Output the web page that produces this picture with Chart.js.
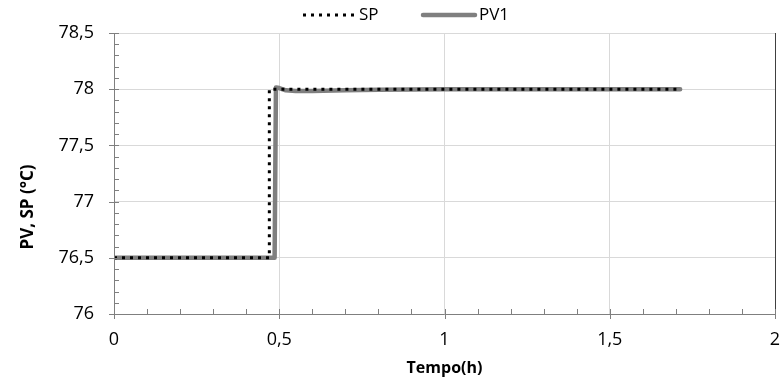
<!DOCTYPE html>
<html>
<head>
<meta charset="utf-8">
<script src="https://cdn.jsdelivr.net/npm/chart.js@4/dist/chart.umd.min.js"></script>
<style>
html,body{margin:0;padding:0;background:#fff;}
#wrap{width:781px;height:381px;}
</style>
</head>
<body>
<div id="wrap"><canvas id="c" width="781" height="381"></canvas></div>
<script>
// ---- data ----
const spTime  = [0, 0.470, 0.470, 1.713];
const spValue = [76.5, 76.5, 78.0, 78.0];
const pvTime  = [0, 0.486, 0.490, 0.500, 0.520, 0.550, 0.600, 0.700, 0.800, 1.000, 1.200, 1.400, 1.600, 1.713];
const pvValue = [76.5, 76.5, 78.016, 78.01, 77.99, 77.983, 77.985, 77.99, 77.995, 78.0, 78.0, 78.0, 78.0, 78.0];
const seriesNames = ['SP', 'PV1'];
const xTicks = [0, 0.5, 1, 1.5, 2];
const yTicks = [76, 76.5, 77, 77.5, 78, 78.5];
const xTitle = 'Tempo(h)';
const yTitle = 'PV, SP (°C)';

const FONT = "'Open Sans', 'Noto Sans', sans-serif";
const fmt = v => String(Math.round(v * 10) / 10).replace('.', ',');

const toPts = (xs, ys) => xs.map((x, i) => ({x: x, y: ys[i]}));

const axisDecor = {
  id: 'axisDecor',
  afterDraw(chart) {
    const ctx = chart.ctx;
    const xs = chart.scales.x, ys = chart.scales.y;
    const a = chart.chartArea;
    ctx.save();
    ctx.lineWidth = 1;
    // right border
    ctx.beginPath();
    ctx.strokeStyle = '#404040';
    ctx.moveTo(Math.round(a.right) + 0.5, a.top);
    ctx.lineTo(Math.round(a.right) + 0.5, a.bottom);
    ctx.stroke();
    ctx.strokeStyle = '#7f7f7f';
    // axis lines
    ctx.beginPath();
    ctx.moveTo(a.left, Math.round(a.bottom) + 0.5);
    ctx.lineTo(a.right, Math.round(a.bottom) + 0.5);
    ctx.moveTo(Math.round(a.left) + 0.5, a.top);
    ctx.lineTo(Math.round(a.left) + 0.5, a.bottom);
    ctx.stroke();
    // x ticks
    ctx.beginPath();
    for (let i = 0; i <= 20; i++) {
      const v = i / 10;
      const px = Math.round(xs.getPixelForValue(v)) + 0.5;
      const major = i % 5 === 0;
      ctx.moveTo(px, a.bottom - 5);
      ctx.lineTo(px, a.bottom + (major ? 5 : 0));
    }
    // y ticks
    for (let i = 0; i <= 25; i++) {
      const v = 76 + i / 10;
      const py = Math.round(ys.getPixelForValue(v)) + 0.5;
      const major = i % 5 === 0;
      ctx.moveTo(a.left - (major ? 5 : 0), py);
      ctx.lineTo(a.left + 5, py);
    }
    ctx.stroke();
    // y title
    ctx.fillStyle = '#000';
    ctx.font = "bold 17px " + FONT;
    ctx.textAlign = 'center';
    ctx.textBaseline = 'middle';
    ctx.save();
    ctx.translate(28, 207);
    ctx.rotate(-Math.PI / 2);
    ctx.fillText(yTitle, 0, 0);
    ctx.restore();

    // legend
    const ds = chart.data.datasets;
    const ly = 15;
    const items = [{x0: 303, x1: 355, tx: 359}, {x0: 423, x1: 475, tx: 479}];
    ctx.font = "17px " + FONT;
    ctx.textAlign = 'left';
    items.forEach((it, i) => {
      ctx.beginPath();
      ctx.strokeStyle = ds[i].borderColor;
      ctx.lineWidth = ds[i].borderWidth;
      ctx.setLineDash(ds[i].borderDash || []);
      ctx.lineCap = ds[i].borderCapStyle || 'butt';
      ctx.moveTo(it.x0, ly);
      ctx.lineTo(it.x1, ly);
      ctx.stroke();
      ctx.setLineDash([]);
      ctx.fillStyle = '#000';
      ctx.fillText(ds[i].label, it.tx, ly);
    });
    ctx.restore();
  }
};

new Chart(document.getElementById('c'), {
  type: 'scatter',
  data: {
    datasets: [
      {
        label: seriesNames[0],
        data: toPts(spTime, spValue),
        showLine: true,
        borderColor: '#000000',
        backgroundColor: '#000000',
        borderWidth: 3,
        borderDash: [3, 5],
        pointRadius: 0,
        tension: 0,
        order: 0
      },
      {
        label: seriesNames[1],
        data: toPts(pvTime, pvValue),
        showLine: true,
        borderColor: '#7f7f7f',
        backgroundColor: '#7f7f7f',
        borderWidth: 4.5,
        borderCapStyle: 'round',
        borderJoinStyle: 'round',
        pointRadius: 0,
        tension: 0,
        order: 1
      }
    ]
  },
  options: {
    responsive: false,
    animation: false,
    layout: {autoPadding: false, padding: {left: 0, right: 6, top: 33, bottom: 0}},
    plugins: {
      tooltip: {enabled: false},
      legend: {display: false}
    },
    scales: {
      x: {
        type: 'linear',
        min: 0, max: 2,
        afterBuildTicks: s => { s.ticks = xTicks.map(v => ({value: v})); },
        afterFit: s => { s.height = 67; s.paddingLeft = 0; s.paddingRight = 0; },
        ticks: {
          callback: v => fmt(v),
          color: '#000',
          font: {family: FONT, size: 18},
          padding: 15,
          maxRotation: 0
        },
        grid: {color: '#d9d9d9', drawTicks: false},
        border: {display: false},
        title: {
          display: true,
          text: xTitle,
          color: '#000',
          font: {family: FONT, size: 16, weight: 'bold'},
          padding: {top: 0, bottom: 3}
        }
      },
      y: {
        type: 'linear',
        min: 76, max: 78.5,
        afterBuildTicks: s => { s.ticks = yTicks.map(v => ({value: v})); },
        afterFit: s => { s.width = 114; s.paddingTop = 0; s.paddingBottom = 0; },
        ticks: {
          callback: v => fmt(v),
          color: '#000',
          font: {family: FONT, size: 18},
          padding: 20
        },
        grid: {color: '#d9d9d9', drawTicks: false},
        border: {display: false},
        title: {display: false}
      }
    }
  },
  plugins: [axisDecor]
});
</script>
</body>
</html>
